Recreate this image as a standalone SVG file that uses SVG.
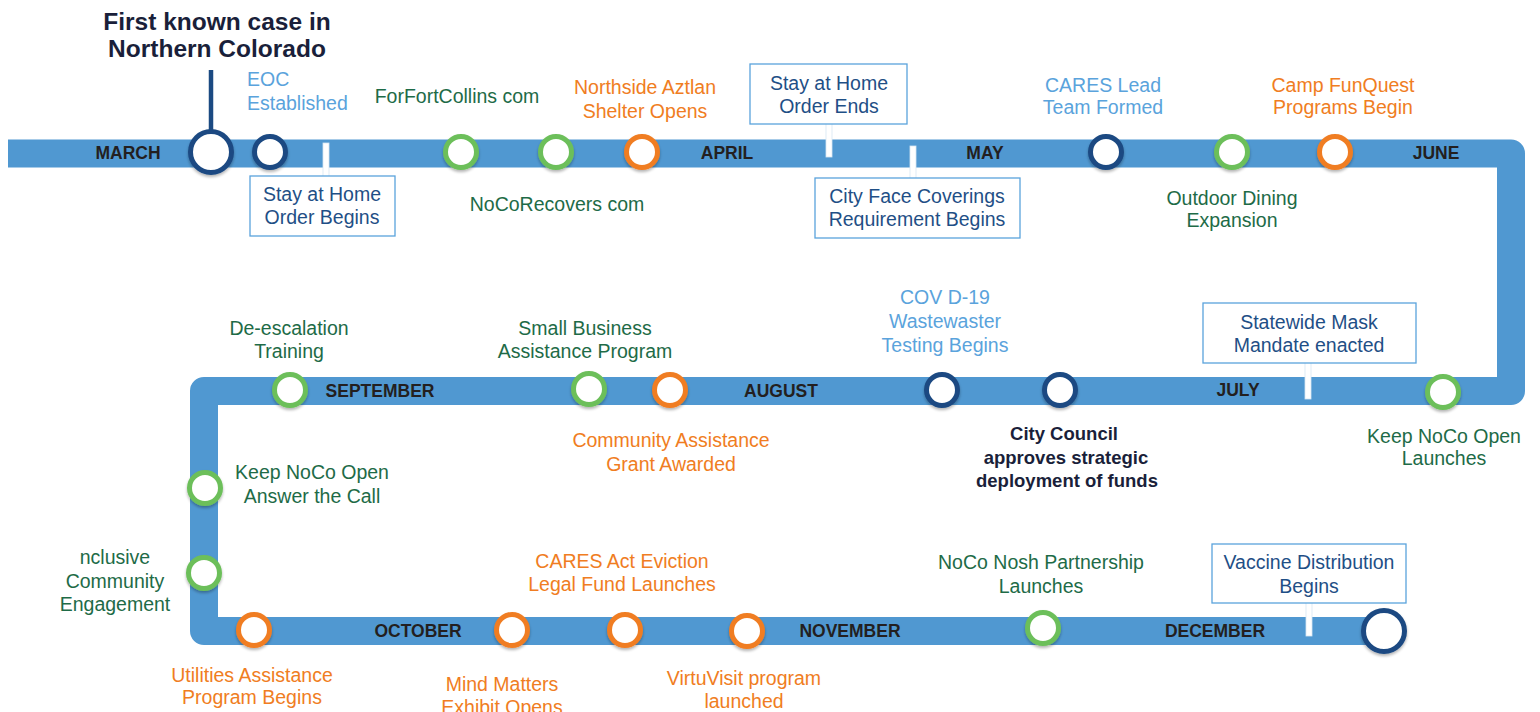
<svg xmlns="http://www.w3.org/2000/svg" width="1540" height="712" viewBox="0 0 1540 712">
<defs>
<filter id="sh" x="-30%" y="-30%" width="160%" height="170%">
<feGaussianBlur in="SourceAlpha" stdDeviation="1.5"/>
<feOffset dy="2" result="b"/>
<feComponentTransfer><feFuncA type="linear" slope="0.3"/></feComponentTransfer>
<feMerge><feMergeNode/><feMergeNode in="SourceGraphic"/></feMerge>
</filter>
</defs>
<style>
text{font-family:"Liberation Sans",Arial,sans-serif;font-size:19.5px;text-anchor:middle}
.mo{font-weight:bold;font-size:17.5px;fill:#231f20}
.g{fill:#1e6b47}.o{fill:#f07d22}.lb{fill:#5aa3dc}.nb{fill:#1f4f86}
.dk{fill:#1a1f3a;font-weight:bold}
.hd{font-size:24.5px}.cc{font-size:18.5px}
.c{fill:#fff;stroke-width:5;filter:url(#sh)}
.cn{stroke:#1b4a82}.cg{stroke:#6cbf5a}.co{stroke:#f07d22}
.box{fill:#fff;stroke:#5aa3dc;stroke-width:1.3}
.stem{fill:#fff;stroke:#d6e6f3;stroke-width:0.8}
</style>
<g id="connectors">
<path d="M8 153.5 H1511 V391 H204 V631 H1384" fill="none" stroke="#5098d1" stroke-width="28" stroke-linejoin="round"/>
<line x1="211" y1="70" x2="211" y2="132" stroke="#1b4a82" stroke-width="4.5"/>
<rect class="stem" x="323" y="143" width="6" height="34"/>
<rect class="stem" x="826" y="123" width="6" height="34"/>
<rect class="stem" x="910" y="146" width="6" height="33"/>
<rect class="stem" x="1305" y="362" width="6" height="37"/>
<rect class="stem" x="1306" y="602" width="6" height="34"/>
</g>
<g id="months">
<text class="mo" x="128" y="159">MARCH</text>
<text class="mo" x="727" y="159">APRIL</text>
<text class="mo" x="985" y="159">MAY</text>
<text class="mo" x="1436" y="159">JUNE</text>
<text class="mo" x="1238" y="396">JULY</text>
<text class="mo" x="781" y="397">AUGUST</text>
<text class="mo" x="380" y="397">SEPTEMBER</text>
<text class="mo" x="418" y="637">OCTOBER</text>
<text class="mo" x="850" y="637">NOVEMBER</text>
<text class="mo" x="1215" y="637">DECEMBER</text>
</g>
<g id="n-first"><circle class="c cn" cx="211" cy="152" r="20.5"/><text class="dk hd" x="217" y="30">First known case in</text><text class="dk hd" x="217" y="57">Northern Colorado</text></g>
<g id="n-eoc"><circle class="c cn" cx="270" cy="152" r="15.5"/><text class="lb" x="247" y="86" style="text-anchor:start">EOC</text><text class="lb" x="247" y="110" style="text-anchor:start">Established</text></g>
<g id="n-stay-begin"><rect class="box" x="250" y="176" width="145" height="60"/><text class="nb" x="322" y="201">Stay at Home</text><text class="nb" x="322" y="224">Order Begins</text></g>
<g id="n-forfc"><circle class="c cg" cx="461" cy="152" r="15.5"/><text class="g" x="457" y="103">ForFortCollins com</text></g>
<g id="n-nocorec"><circle class="c cg" cx="556" cy="152" r="15.5"/><text class="g" x="557" y="211">NoCoRecovers com</text></g>
<g id="n-aztlan"><circle class="c co" cx="642" cy="152" r="15.5"/><text class="o" x="645" y="94">Northside Aztlan</text><text class="o" x="645" y="118">Shelter Opens</text></g>
<g id="n-stay-end"><rect class="box" x="750" y="64" width="157" height="60"/><text class="nb" x="829" y="90">Stay at Home</text><text class="nb" x="829" y="113">Order Ends</text></g>
<g id="n-face"><rect class="box" x="815" y="178" width="205" height="60"/><text class="nb" x="917" y="203">City Face Coverings</text><text class="nb" x="917" y="226">Requirement Begins</text></g>
<g id="n-cares-lead"><circle class="c cn" cx="1106" cy="152" r="15.5"/><text class="lb" x="1103" y="92">CARES Lead</text><text class="lb" x="1103" y="114">Team Formed</text></g>
<g id="n-dining"><circle class="c cg" cx="1232" cy="152" r="15.5"/><text class="g" x="1232" y="205">Outdoor Dining</text><text class="g" x="1232" y="227">Expansion</text></g>
<g id="n-camp"><circle class="c co" cx="1335" cy="152" r="15.5"/><text class="o" x="1343" y="92">Camp FunQuest</text><text class="o" x="1343" y="114">Programs Begin</text></g>
<g id="n-keep-launch"><circle class="c cg" cx="1443" cy="392" r="15.5"/><text class="g" x="1444" y="443">Keep NoCo Open</text><text class="g" x="1444" y="465">Launches</text></g>
<g id="n-mask"><rect class="box" x="1203" y="303" width="213" height="60"/><text class="nb" x="1309" y="329">Statewide Mask</text><text class="nb" x="1309" y="352">Mandate enacted</text></g>
<g id="n-council"><circle class="c cn" cx="1060" cy="390" r="15.5"/><text class="dk cc" x="1064" y="440">City Council</text><text class="dk cc" x="1066" y="464">approves strategic</text><text class="dk cc" x="1067" y="487">deployment of funds</text></g>
<g id="n-wastewater"><circle class="c cn" cx="942" cy="390" r="15.5"/><text class="lb" x="945" y="304">COV D-19</text><text class="lb" x="945" y="328">Wastewaster</text><text class="lb" x="945" y="352">Testing Begins</text></g>
<g id="n-grant"><circle class="c co" cx="670" cy="390" r="15.5"/><text class="o" x="671" y="447">Community Assistance</text><text class="o" x="671" y="471">Grant Awarded</text></g>
<g id="n-smallbiz"><circle class="c cg" cx="589" cy="389" r="15.5"/><text class="g" x="585" y="335">Small Business</text><text class="g" x="585" y="358">Assistance Program</text></g>
<g id="n-deesc"><circle class="c cg" cx="290" cy="390" r="15.5"/><text class="g" x="289" y="335">De-escalation</text><text class="g" x="289" y="358">Training</text></g>
<g id="n-answer"><circle class="c cg" cx="205" cy="488" r="15.5"/><text class="g" x="312" y="479">Keep NoCo Open</text><text class="g" x="312" y="503">Answer the Call</text></g>
<g id="n-inclusive"><circle class="c cg" cx="204" cy="573" r="15.5"/><text class="g" x="115" y="564">nclusive</text><text class="g" x="115" y="588">Community</text><text class="g" x="115" y="611">Engagement</text></g>
<g id="n-utilities"><circle class="c co" cx="254" cy="630" r="15.5"/><text class="o" x="252" y="682">Utilities Assistance</text><text class="o" x="252" y="704">Program Begins</text></g>
<g id="n-mind"><circle class="c co" cx="512" cy="630" r="15.5"/><text class="o" x="502" y="691">Mind Matters</text><text class="o" x="502" y="714">Exhibit Opens</text></g>
<g id="n-eviction"><circle class="c co" cx="625" cy="630" r="15.5"/><text class="o" x="622" y="568">CARES Act Eviction</text><text class="o" x="622" y="591">Legal Fund Launches</text></g>
<g id="n-virtu"><circle class="c co" cx="747" cy="631" r="15.5"/><text class="o" x="744" y="685">VirtuVisit program</text><text class="o" x="744" y="708">launched</text></g>
<g id="n-nosh"><circle class="c cg" cx="1043" cy="628" r="15.5"/><text class="g" x="1041" y="569">NoCo Nosh Partnership</text><text class="g" x="1041" y="593">Launches</text></g>
<g id="n-vaccine"><rect class="box" x="1212" y="544" width="194" height="59"/><text class="nb" x="1309" y="569">Vaccine Distribution</text><text class="nb" x="1309" y="593">Begins</text></g>
<g id="n-end"><circle class="c cn" cx="1384" cy="631" r="20.5"/></g>
</svg>
